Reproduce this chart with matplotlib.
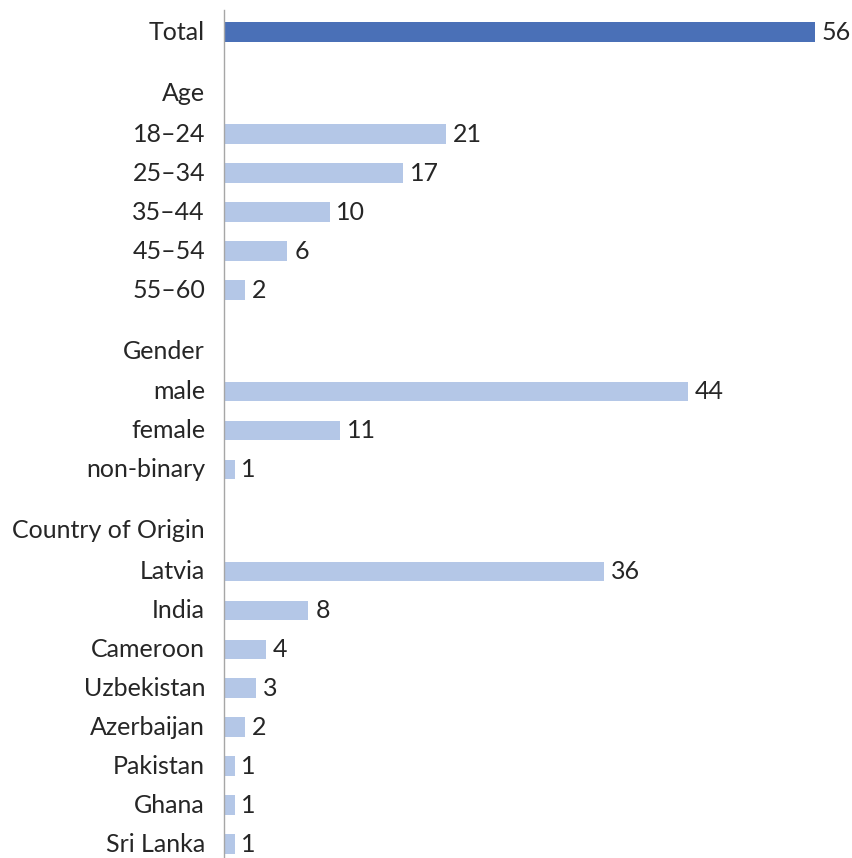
import matplotlib.pyplot as plt

# rows top to bottom; None marks a group header with no bar
labels = ["Total",
          "Age", "18–24", "25–34", "35–44", "45–54", "55–60",
          "Gender", "male", "female", "non-binary",
          "Country of Origin", "Latvia", "India", "Cameroon", "Uzbekistan",
          "Azerbaijan", "Pakistan", "Ghana", "Sri Lanka"]
values = [56,
          None, 21, 17, 10, 6, 2,
          None, 44, 11, 1,
          None, 36, 8, 4, 3, 2, 1, 1, 1]

dark_blue = "#4a70b7"
light_blue = "#b4c7e7"
text_color = "#262626"

# vertical slot for each row: extra space before each header
positions = []
pos = 0.0
for i, v in enumerate(values):
    if i > 0:
        pos += 1.0
        if v is None:
            pos += 0.56
        elif values[i - 1] is None:
            pos += 0.05
    positions.append(pos)

W, H = 852, 858
fig = plt.figure(figsize=(W / 100, H / 100), dpi=100)
ax = fig.add_axes([224 / W, 0, (815 - 224) / W, 1 - 10 / H])

last = positions[-1]
ppu = (843 - 31) / last
ax.set_ylim(last + 15 / ppu, -21 / ppu)
ax.set_xlim(0, 56)

fam = ["Lato", "DejaVu Sans"]
fs = 18

for i, (lab, v, y) in enumerate(zip(labels, values, positions)):
    if v is not None:
        ax.barh(y + 0.03, v, height=0.5, color=dark_blue if i == 0 else light_blue)
        ax.text(v + 0.65, y + 0.04, str(v), va="center", ha="left", fontsize=fs,
                color=text_color, family=fam, clip_on=False)
    ax.text(-1.8, y + 0.04, lab, va="center", ha="right", fontsize=fs,
            color=text_color, family=fam, clip_on=False)

for s in ["top", "right", "bottom"]:
    ax.spines[s].set_visible(False)
ax.spines["left"].set_color("#a6a6a6")
ax.spines["left"].set_linewidth(1.0)
ax.set_xticks([])
ax.set_yticks([])
ax.patch.set_visible(False)

fig.savefig("out.png", dpi=100)
